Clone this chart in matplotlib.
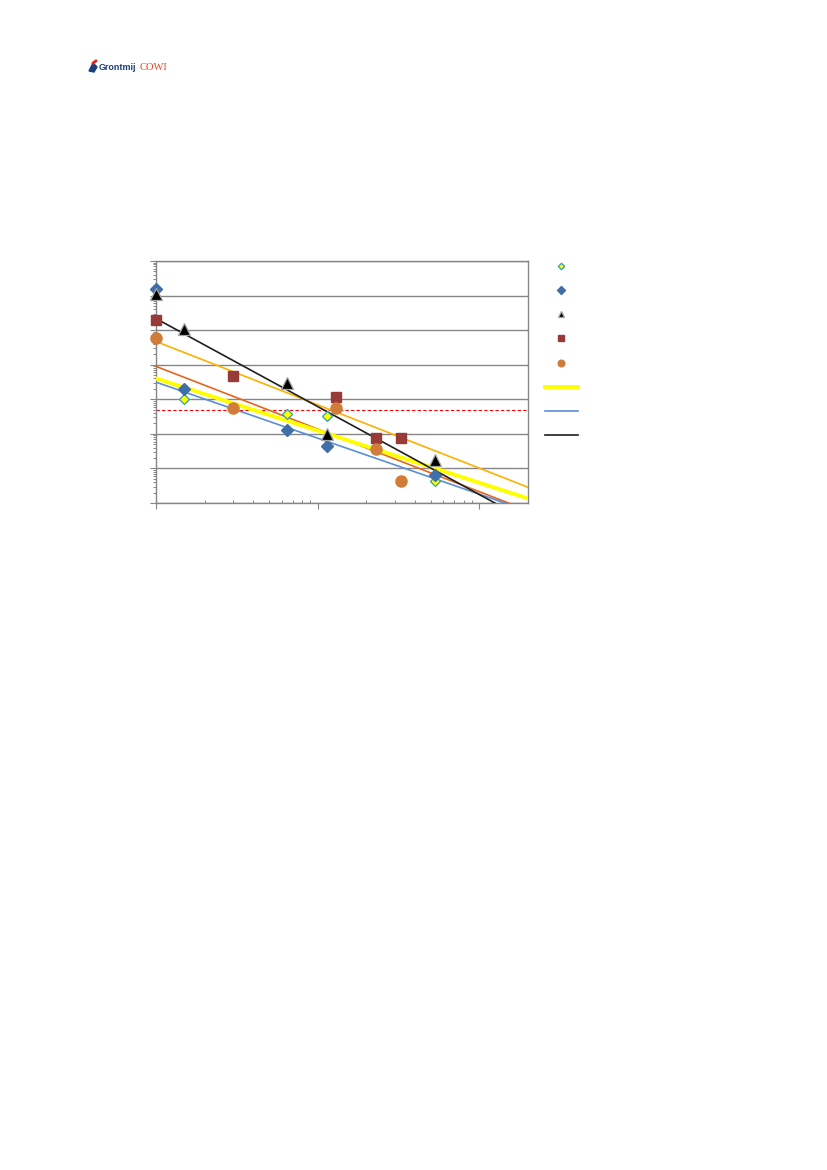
import numpy as np
import matplotlib
matplotlib.use('Agg')
import matplotlib.pyplot as plt
from matplotlib.patches import Polygon
from matplotlib.ticker import LogLocator, NullFormatter

# data (log-log)
x_s1 = [1.5, 6.5, 11.5, 53]
y_s1 = [1000, 375, 335, 4.2]

x_s2 = [1, 1.5, 6.5, 11.5, 53]
y_s2 = [1.6e6, 2000, 130, 45, 6.3]

x_s3 = [1, 1.5, 6.5, 11.5, 53]
y_s3 = [1.1e6, 1.1e5, 3000, 97, 17]

x_s4 = [1, 3, 13, 23, 33]
y_s4 = [2.0e5, 4700, 1170, 77, 74]

x_s5 = [1, 3, 13, 23, 33]
y_s5 = [6.0e4, 570, 570, 36, 4.3]

grens = 500  # horizontal dashed line

x_lim = (1, 200)
y_lim = (1, 1e7)


def power_fit(x, y):
    # trend line as in the sheet: power fit, first point (x = 1) left out
    x = np.asarray(x, float)
    y = np.asarray(y, float)
    m = x > 1
    b, a = np.polyfit(np.log10(x[m]), np.log10(y[m]), 1)
    xs = np.array(x_lim, float)
    return xs, 10 ** (a + b * np.log10(xs))


fig = plt.figure(figsize=(8.27, 11.70), dpi=100)
ax = fig.add_axes([156 / 827, 1 - 503 / 1170, 372 / 827, 242 / 1170])

ax.set_xscale('log')
ax.set_yscale('log')
ax.set_xlim(*x_lim)
ax.set_ylim(*y_lim)

grid_kl = '#868686'
ax.yaxis.set_major_locator(LogLocator(base=10, numticks=20))
ax.yaxis.set_minor_locator(LogLocator(base=10, subs=np.arange(2, 10), numticks=20))
ax.xaxis.set_major_locator(LogLocator(base=10, numticks=20))
ax.xaxis.set_minor_locator(LogLocator(base=10, subs=np.arange(2, 10), numticks=20))
for a in (ax.xaxis, ax.yaxis):
    a.set_major_formatter(NullFormatter())
    a.set_minor_formatter(NullFormatter())
ax.grid(True, axis='y', which='major', color=grid_kl, lw=1.0, zorder=0)
ax.tick_params(axis='y', which='major', direction='out', length=4, color=grid_kl, width=0.8)
ax.tick_params(axis='y', which='minor', direction='out', length=2.5, color=grid_kl, width=0.7)
ax.tick_params(axis='x', which='major', direction='out', length=4, color=grid_kl, width=0.8)
ax.tick_params(axis='x', which='minor', direction='in', length=2.5, color=grid_kl, width=0.7)
for s in ax.spines.values():
    s.set_color(grid_kl)
    s.set_linewidth(1.0)

# horizontal limit
ax.axhline(grens, color='#ff0000', lw=0.8, ls=(0, (3, 2)), zorder=2)

# trend lines
xs, ys = power_fit(x_s4, y_s4)
ax.plot(xs, ys, color='#ffb000', lw=1.2, zorder=3)
xs, ys = power_fit(x_s5, y_s5)
ax.plot(xs, ys, color='#e8641e', lw=1.2, zorder=3)
xs, ys = power_fit(x_s1, y_s1)
l_geel, = ax.plot(xs, ys, color='#ffff00', lw=2.8, zorder=3)
xs, ys = power_fit(x_s2, y_s2)
l_blauw, = ax.plot(xs, ys, color='#5a8fd6', lw=1.2, zorder=3)
xs, ys = power_fit(x_s3, y_s3)
l_zwart, = ax.plot(xs, ys, color='#1f1f1f', lw=1.2, zorder=3)

# measured points
p1, = ax.plot(x_s1, y_s1, 'D', ms=5.5, mfc='#ffff00', mec='#31a0a8', mew=0.9,
              ls='none', zorder=5, clip_on=False)
p2, = ax.plot(x_s2, y_s2, 'D', ms=6.2, mfc='#3f6ea8', mec='#3f6ea8',
              ls='none', zorder=5, clip_on=False)
p3, = ax.plot(x_s3, y_s3, '^', ms=8, mfc='#000000', mec='#a6a6a6', mew=0.9,
              ls='none', zorder=5, clip_on=False)
p4, = ax.plot(x_s4, y_s4, 's', ms=7.6, mfc='#983a38', mec='#983a38',
              ls='none', zorder=5, clip_on=False)
p5, = ax.plot(x_s5, y_s5, 'o', ms=8, mfc='#d17c38', mec='#d17c38',
              ls='none', zorder=5, clip_on=False)

handles = [p1, p2, p3, p4, p5, l_geel, l_blauw, l_zwart]
fig.legend(handles, [' '] * len(handles), loc='upper left',
           bbox_to_anchor=(545 / 827, 1 - 261.5 / 1170), frameon=False,
           fontsize=8, handlelength=2.95, handletextpad=0.2, borderpad=0,
           borderaxespad=0, labelspacing=1.28, markerscale=0.6)

# logo
fig.patches.append(Polygon([[89 / 827, 1 - 71 / 1170], [93 / 827, 1 - 63 / 1170],
                            [97 / 827, 1 - 67 / 1170], [94 / 827, 1 - 72 / 1170]],
                           closed=True, transform=fig.transFigure,
                           color='#1c3f7a'))
fig.patches.append(Polygon([[92 / 827, 1 - 63 / 1170], [96 / 827, 1 - 60 / 1170],
                            [97 / 827, 1 - 61 / 1170], [93 / 827, 1 - 64 / 1170]],
                           closed=True, transform=fig.transFigure,
                           color='#e2231a'))
fig.text(99 / 827, 1 - 67.5 / 1170, 'Grontmij', fontsize=6.4, fontweight='bold',
         color='#1c3f7a', va='center', ha='left', family='Liberation Sans')
fig.text(139.5 / 827, 1 - 67.5 / 1170, 'COWI', fontsize=7.6, color='#e8461e',
         va='center', ha='left', family='Liberation Serif')

fig.savefig('out.png', dpi=100)
